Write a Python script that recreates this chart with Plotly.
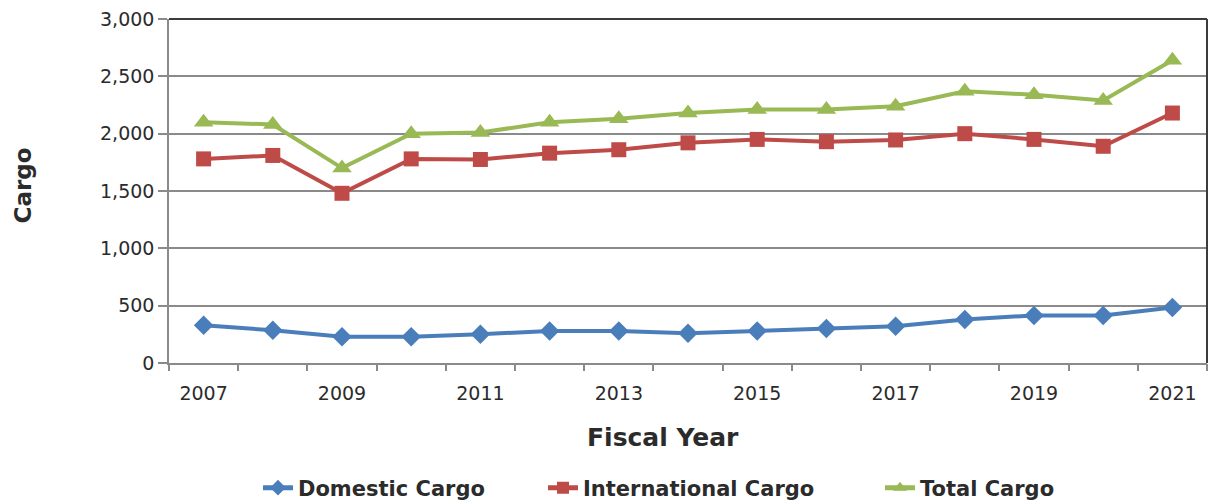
import plotly.graph_objects as go

# Fiscal years and cargo volumes per series
years = list(range(2007, 2022))
domestic = [330, 285, 230, 230, 250, 280, 280, 260, 280, 300, 320, 380, 415, 415, 485]
international = [1780, 1810, 1480, 1780, 1775, 1830, 1860, 1920, 1950, 1930, 1945, 2000, 1950, 1890, 2180]
total = [2100, 2080, 1700, 2000, 2010, 2100, 2130, 2180, 2210, 2210, 2240, 2370, 2340, 2290, 2640]

label_years = [2007, 2009, 2011, 2013, 2015, 2017, 2019, 2021]
y_ticks = [0, 500, 1000, 1500, 2000, 2500, 3000]

FONT = "DejaVu Sans"
TEXT = "#2b2b2b"
GRID = "#8a8a8a"

W, H = 1211, 501
L, R, T, B = 169, 4, 19, 138
pw, ph = W - L - R, H - T - B

# name, values, colour, marker symbol, marker size, legend id, legend left edge (px)
series = [
    ("Domestic Cargo", domestic, "#4A7EBB", "diamond", 15, "legend", 258),
    ("International Cargo", international, "#BE4B48", "square", 15, "legend2", 543),
    ("Total Cargo", total, "#98B954", "triangle-up", 17, "legend3", 880),
]

fig = go.Figure()
legend_layout = {}
for name, vals, color, symbol, size, leg, left in series:
    fig.add_trace(go.Scatter(
        x=years, y=vals, name=name, mode="lines+markers",
        line=dict(color=color, width=4),
        marker=dict(symbol=symbol, size=size, color=color),
        legend=leg,
    ))
    legend_layout[leg] = dict(
        orientation="h", xref="container", yref="container",
        x=left / W, xanchor="left", y=1 - 488 / H, yanchor="middle",
        font=dict(family=FONT, size=21, color=TEXT, weight="bold"),
        itemsizing="constant", bgcolor="rgba(0,0,0,0)",
    )

# boundary tick marks between fiscal years, on an overlaid axis
boundaries = [years[0] - 0.5] + [y + 0.5 for y in years]
fig.add_trace(go.Scatter(x=[boundaries[0], boundaries[-1]], y=[0, 0], xaxis="x2",
                         mode="markers", marker=dict(opacity=0), showlegend=False,
                         hoverinfo="skip"))

fig.update_layout(
    width=W, height=H,
    margin=dict(l=L, r=R, t=T, b=B, autoexpand=False),
    paper_bgcolor="white", plot_bgcolor="white",
    font=dict(family=FONT, color=TEXT, size=19),
    showlegend=True,
    xaxis=dict(
        range=[2006.5, 2021.5], tickmode="array", tickvals=label_years,
        ticktext=[str(y) for y in label_years], ticks="", showgrid=False,
        showline=True, linecolor=GRID, linewidth=1.5, zeroline=False,
        tickfont=dict(size=19, color=TEXT), ticklabelstandoff=12, automargin=False,
    ),
    xaxis2=dict(
        overlaying="x", side="bottom", range=[2006.5, 2021.5], anchor="y",
        tickmode="array", tickvals=boundaries, showticklabels=False,
        ticks="outside", ticklen=7, tickcolor=GRID, tickwidth=1.5,
        showgrid=False, showline=False, zeroline=False, automargin=False,
    ),
    yaxis=dict(
        range=[0, 3000], tickmode="array", tickvals=y_ticks, tickformat=",",
        ticks="outside", ticklen=9, tickcolor=GRID, tickwidth=1.5,
        showgrid=True, gridcolor=GRID, gridwidth=1.5, automargin=False,
        showline=True, linecolor=GRID, linewidth=1.5, zeroline=False,
        tickfont=dict(size=19, color=TEXT),
    ),
    **legend_layout,
)

# darker border along the top and right edges of the plot area
fig.add_shape(type="line", xref="paper", yref="paper", x0=0, x1=1, y0=1, y1=1,
              line=dict(color="#3c3c3c", width=2))
fig.add_shape(type="line", xref="paper", yref="paper", x0=1, x1=1, y0=0, y1=1,
              line=dict(color="#3c3c3c", width=2))

fig.add_annotation(text="<b>Cargo</b>", xref="paper", yref="paper",
                   x=(22 - L) / pw, y=(T + ph - 185.5) / ph, textangle=-90,
                   xanchor="center", yanchor="middle", showarrow=False,
                   font=dict(family=FONT, size=23, color=TEXT))
fig.add_annotation(text="<b>Fiscal Year</b>", xref="paper", yref="paper",
                   x=(663 - L) / pw, y=(T + ph - 437) / ph,
                   xanchor="center", yanchor="middle", showarrow=False,
                   font=dict(family=FONT, size=25, color=TEXT))

fig.write_html("out.html")
